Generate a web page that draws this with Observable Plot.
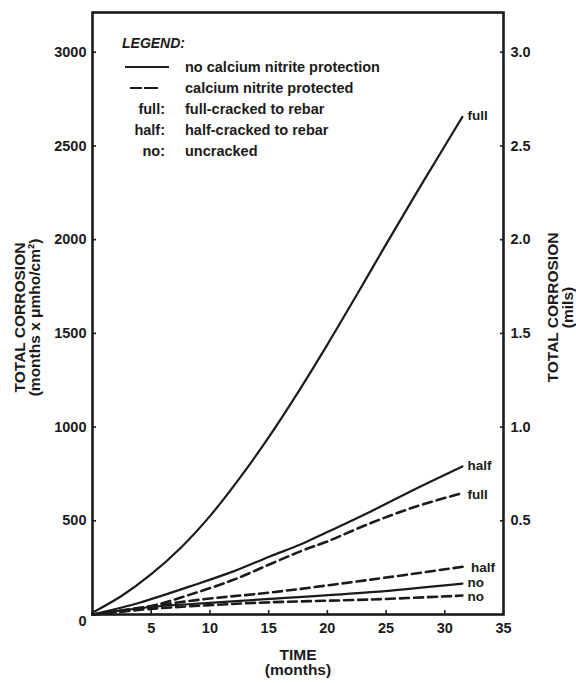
<!DOCTYPE html>
<html>
<head>
<meta charset="utf-8">
<script src="https://cdn.jsdelivr.net/npm/d3@7"></script>
<script src="https://cdn.jsdelivr.net/npm/@observablehq/plot@0.6"></script>
<style>
  html, body { margin: 0; padding: 0; background: #fff; }
  #chart { width: 576px; height: 683px; }
</style>
</head>
<body>
<div id="chart"></div>
<script>
// ---- data ----
const xTicks = [5, 10, 15, 20, 25, 30, 35];
const yTicks = [500, 1000, 1500, 2000, 2500, 3000];
const milTicks = [0.5, 1.0, 1.5, 2.0, 2.5, 3.0];

// no calcium nitrite protection (solid)
const fullSolidT = [0, 2.5, 5, 7.5, 10, 12.5, 15, 17.5, 20, 22.5, 25, 27.5, 30, 31.5];
const fullSolidV = [10, 100, 215, 355, 525, 725, 945, 1185, 1440, 1705, 1975, 2240, 2500, 2655];
const halfSolidT = [0, 4, 8.3, 12, 15.1, 17.7, 20, 23.7, 27.5, 31.5];
const halfSolidV = [0, 63, 150, 230, 310, 373, 440, 550, 670, 790];
const noSolidT = [0, 5, 10, 15.1, 23.7, 31.5];
const noSolidV = [0, 40, 62, 83, 119, 165];

// calcium nitrite protected (dashed)
const fullDashT = [0, 3, 5.5, 8.3, 12, 15.1, 17.7, 20, 23.7, 27.5, 31.5];
const fullDashV = [0, 20, 53, 106, 185, 268, 337, 390, 488, 575, 648];
const halfDashT = [0, 5, 10, 15.1, 23.7, 31.8];
const halfDashV = [0, 45, 85, 117, 186, 257];
const noDashT = [0, 5, 10, 15.1, 23.7, 31.5];
const noDashV = [0, 30, 50, 65, 80, 101];

const legendTitle = "LEGEND:";
const legendKeys = ["", "", "full:", "half:", "no:"];
const legendTexts = ["no calcium nitrite protection", "calcium nitrite protected",
  "full-cracked to rebar", "half-cracked to rebar", "uncracked"];

// ---- build series table ----
const seriesDefs = [
  {name: "full", kind: "solid", t: fullSolidT, v: fullSolidV},
  {name: "half", kind: "solid", t: halfSolidT, v: halfSolidV},
  {name: "no", kind: "solid", t: noSolidT, v: noSolidV},
  {name: "full", kind: "dashed", t: fullDashT, v: fullDashV},
  {name: "half", kind: "dashed", t: halfDashT, v: halfDashV},
  {name: "no", kind: "dashed", t: noDashT, v: noDashV}
];
const rows = seriesDefs.flatMap(s => s.t.map((t, i) => ({id: s.kind + s.name, kind: s.kind, t, v: s.v[i]})));
const solidRows = rows.filter(r => r.kind === "solid");
const dashRows = rows.filter(r => r.kind === "dashed");
const ends = seriesDefs.map(s => ({name: s.name, kind: s.kind, t: s.t[s.t.length - 1], v: s.v[s.v.length - 1]}));
const solidEnds = ends.filter(e => e.kind === "solid");
const dashEnds = ends.filter(e => e.kind === "dashed");

const ink = "#1b1b1b";
const font = "'Liberation Sans', Arial, Helvetica, sans-serif";

function legendMark(index, scales, values, dims) {
  const g = d3.create("svg:g")
    .attr("font-family", font).attr("font-weight", "bold").attr("fill", ink)
    .attr("text-anchor", "start");
  const x0 = dims.marginLeft;
  const y0 = dims.marginTop;
  g.append("text").attr("x", x0 + 30).attr("y", y0 + 31).attr("dy", "0.35em")
    .attr("text-anchor", "start")
    .attr("font-style", "italic").attr("font-size", 14).text(legendTitle);
  legendTexts.forEach((txt, i) => {
    const y = y0 + 55 + i * 21;
    if (i === 0) {
      g.append("line").attr("x1", x0 + 33).attr("x2", x0 + 77).attr("y1", y).attr("y2", y)
        .attr("stroke", ink).attr("stroke-width", 2);
    } else if (i === 1) {
      g.append("line").attr("x1", x0 + 38).attr("x2", x0 + 69).attr("y1", y).attr("y2", y)
        .attr("stroke", ink).attr("stroke-width", 2).attr("stroke-dasharray", "12,2,14");
    } else {
      g.append("text").attr("x", x0 + 73).attr("y", y).attr("dy", "0.35em")
        .attr("text-anchor", "end").attr("font-size", 14.5).text(legendKeys[i]);
    }
    g.append("text").attr("x", x0 + 93).attr("y", y).attr("dy", "0.35em")
      .attr("text-anchor", "start")
      .attr("font-size", 14.5).text(txt);
  });
  return g.node();
}

const chart = Plot.plot({
  width: 576,
  height: 683,
  marginLeft: 92,
  marginRight: 73,
  marginTop: 12,
  marginBottom: 69,
  x: {domain: [0, 35]},
  y: {domain: [0, 3212]},
  style: {fontFamily: font, fontWeight: "bold", fontSize: "14px", color: ink, background: "#fff", overflow: "visible"},
  marks: [
    Plot.line(solidRows, {x: "t", y: "v", z: "id", stroke: ink, strokeWidth: 2.2, curve: "catmull-rom"}),
    Plot.line(dashRows, {x: "t", y: "v", z: "id", stroke: ink, strokeWidth: 2.6, strokeDasharray: "9,5", curve: "catmull-rom"}),
    Plot.text(solidEnds, {x: "t", y: "v", text: "name", textAnchor: "start", dx: 5, dy: -1, fill: ink, fontSize: 13.5, fontWeight: "bold"}),
    Plot.text(dashEnds, {x: "t", y: "v", text: "name", textAnchor: "start", dx: 5, dy: 1.5, fill: ink, fontSize: 13.5, fontWeight: "bold"}),
    Plot.axisX(xTicks, {anchor: "bottom", tickSize: -4, tickPadding: 12, strokeWidth: 1.6, stroke: ink, label: null, fontSize: 14.5, tickFormat: d => String(d)}),
    Plot.axisY(yTicks, {anchor: "left", tickSize: -4, tickPadding: 10, strokeWidth: 1.6, stroke: ink, label: null, fontSize: 14.5, tickFormat: d => String(d)}),
    Plot.axisY([0], {anchor: "left", tickSize: 0, tickPadding: 6, dy: 7, label: null, fontSize: 14.5, tickFormat: d => String(d)}),
    Plot.axisY(milTicks.map(d => d * 1000), {anchor: "right", tickSize: -4, tickPadding: 11, strokeWidth: 1.6, stroke: ink, label: null, fontSize: 14.5,
      tickFormat: d => milTicks[milTicks.indexOf(d / 1000)].toFixed(1)}),
    Plot.frame({stroke: ink, strokeWidth: 2.6}),
    Plot.text(["TOTAL CORROSION\n(months x μmho/cm²)"], {frameAnchor: "left", textAnchor: "middle", lineAnchor: "middle", rotate: -90, dx: -65, dy: 4, lineHeight: 1.0, fontSize: 15.5, fontWeight: "bold", fill: ink}),
    Plot.text(["TOTAL CORROSION\n(mils)"], {frameAnchor: "right", textAnchor: "middle", lineAnchor: "middle", rotate: -90, dx: 57, dy: -6, lineHeight: 1.0, fontSize: 15.5, fontWeight: "bold", fill: ink}),
    Plot.text(["TIME\n(months)"], {frameAnchor: "bottom", textAnchor: "middle", lineAnchor: "middle", dy: 48, lineHeight: 1.0, fontSize: 15.5, fontWeight: "bold", fill: ink}),
    legendMark
  ]
});
document.getElementById("chart").appendChild(chart);
</script>
</body>
</html>
